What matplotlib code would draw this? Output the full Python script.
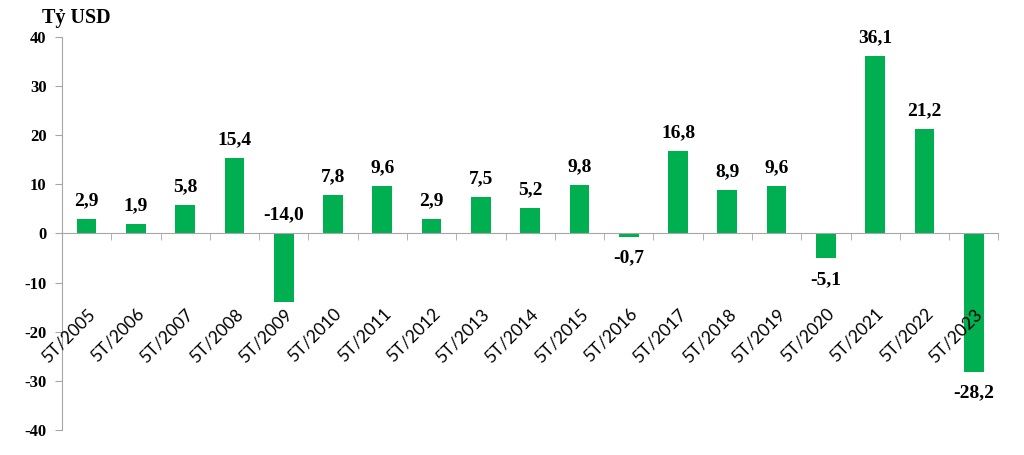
import matplotlib.pyplot as plt
import numpy as np

periods = ['5T/2005', '5T/2006', '5T/2007', '5T/2008', '5T/2009', '5T/2010', '5T/2011',
           '5T/2012', '5T/2013', '5T/2014', '5T/2015', '5T/2016', '5T/2017', '5T/2018',
           '5T/2019', '5T/2020', '5T/2021', '5T/2022', '5T/2023']
balance = [2.9, 1.9, 5.8, 15.4, -14.0, 7.8, 9.6, 2.9, 7.5, 5.2, 9.8, -0.7, 16.8,
           8.9, 9.6, -5.1, 36.1, 21.2, -28.2]
# labels drawn above the zero line instead of under the bar
label_on_top = ['5T/2009']

GREEN = '#00B050'
AXIS = '#A6A6A6'
SERIF = 'Liberation Serif'


def fmt(v):
    return f'{v:.1f}'.replace('.', ',')


def main():
    fig = plt.figure(figsize=(10.24, 4.55), dpi=100)
    ax = fig.add_axes([0.0605, 0.055, 0.9145, 0.864])

    x = np.arange(len(periods))
    ax.bar(x, balance, width=0.4, color=GREEN, zorder=2)

    for xi, p, v in zip(x, periods, balance):
        if v >= 0 or p in label_on_top:
            ax.annotate(fmt(v), (xi, max(v, 0)), xytext=(0, 7), textcoords='offset points',
                        ha='center', va='bottom', fontsize=14, fontweight='bold', family=SERIF)
        else:
            ax.annotate(fmt(v), (xi, v), xytext=(0, -9), textcoords='offset points',
                        ha='center', va='top', fontsize=14, fontweight='bold', family=SERIF)

    ax.set_xlim(-0.5, len(periods) - 0.5)
    ax.set_ylim(-40, 40)
    ax.set_yticks(range(-40, 41, 10))
    ax.set_yticklabels([str(t) for t in range(-40, 41, 10)], fontsize=12, fontweight='bold',
                       family=SERIF)

    ax.spines['top'].set_visible(False)
    ax.spines['right'].set_visible(False)
    ax.spines['bottom'].set_position(('data', 0))
    ax.spines['bottom'].set_color(AXIS)
    ax.spines['left'].set_color(AXIS)
    ax.spines['bottom'].set_zorder(3)
    ax.xaxis.set_zorder(3)

    ax.set_xticks(x)
    ax.set_xticklabels(periods, rotation=45, ha='right', rotation_mode='anchor',
                       fontsize=12.5, family='Lato')
    ax.set_xticks(np.arange(-0.5, len(periods), 1), minor=True)
    ax.tick_params(axis='x', which='major', length=0, pad=52)
    ax.tick_params(axis='x', which='minor', length=5, color=AXIS, direction='out')
    ax.tick_params(axis='y', length=5, color=AXIS, pad=6)

    fig.text(0.041, 0.96, 'Tỷ USD', fontsize=14.5, fontweight='bold', family=SERIF,
             ha='left', va='center')

    fig.savefig('out.png', dpi=100)


if __name__ == '__main__':
    main()
